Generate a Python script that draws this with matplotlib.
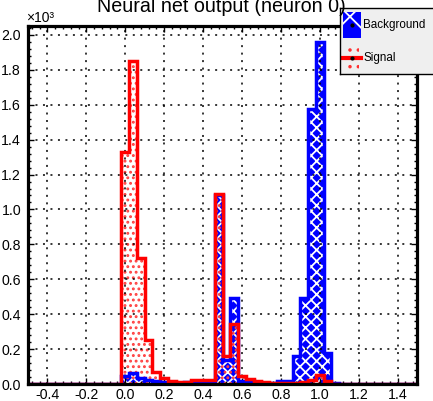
from __future__ import annotations

import matplotlib
matplotlib.use("Agg")
import matplotlib.pyplot as plt
import numpy as np
from matplotlib.patches import Rectangle
from matplotlib.ticker import FuncFormatter, MultipleLocator


# 50 bins from -0.5 to 1.5
BIN_LO = -0.5
BIN_HI = 1.5
N_BINS = 50

# background counts per bin
background = [
    0, 0, 0, 0, 0, 0, 0, 0, 0, 0,
    0, 0, 45, 65, 35, 25, 15, 10, 8, 8,
    10, 10, 15, 20, 1085, 140, 490, 20, 15, 10,
    8, 8, 15, 20, 160, 495, 1575, 1960, 175, 5,
    0, 0, 0, 0, 0, 0, 0, 0, 0, 0,
]

# signal counts per bin
signal = [
    0, 0, 0, 0, 0, 0, 0, 0, 0, 0,
    0, 0, 1330, 1850, 720, 250, 70, 35, 15, 10,
    12, 25, 25, 25, 1090, 160, 345, 45, 30, 15,
    10, 8, 8, 5, 5, 10, 25, 50, 15, 0,
    0, 0, 0, 0, 0, 0, 0, 0, 0, 0,
]

x_ticks = [-0.4, -0.2, 0.0, 0.2, 0.4, 0.6, 0.8, 1.0, 1.2, 1.4]
y_ticks = [0, 200, 400, 600, 800, 1000, 1200, 1400, 1600, 1800, 2000]

TITLE = "Neural net output (neuron 0)"

W, H = 433, 401


def setup_matplotlib() -> None:
    plt.rcParams["font.family"] = ["Liberation Sans", "DejaVu Sans"]
    plt.rcParams["axes.unicode_minus"] = False
    plt.rcParams["hatch.linewidth"] = 1.3


def px(x0, y0, w, h):
    # pixel box (top-left origin) -> figure fraction rect
    return [x0 / W, 1 - (y0 + h) / H, w / W, h / H]


def draw_hist(ax) -> None:
    edges = np.linspace(BIN_LO, BIN_HI, N_BINS + 1)
    bkg = np.array(background, dtype=float)
    sig = np.array(signal, dtype=float)

    ax.stairs(bkg, edges, fill=True, facecolor="#0000ff", edgecolor="white",
              hatch="xxx", lw=0, zorder=1)
    ax.stairs(sig, edges, fill=True, facecolor="none", edgecolor="#ff4040",
              hatch="...", lw=0, zorder=1.1)
    ax.stairs(bkg, edges, color="#0000ff", lw=2.5, zorder=2.2)
    ax.stairs(sig, edges, color="#ff0000", lw=2.5, zorder=2.3)


def style_axes(ax) -> None:
    ax.set_xlim(BIN_LO, BIN_HI)
    ax.set_ylim(0, 2051)
    ax.set_xticks(x_ticks)
    ax.set_yticks(y_ticks)
    ax.xaxis.set_minor_locator(MultipleLocator(0.04))
    ax.yaxis.set_minor_locator(MultipleLocator(40))
    ax.xaxis.set_major_formatter(FuncFormatter(lambda v, p: f"{round(v, 1) + 0:.1f}"))
    ax.yaxis.set_major_formatter(FuncFormatter(lambda v, p: f"{v / 1000:.1f}"))
    ax.tick_params(which="both", direction="in", top=True, right=True, width=1.0)
    ax.tick_params(which="major", length=4.5, labelsize=10.2, pad=3)
    ax.tick_params(which="minor", length=2.2)
    ax.tick_params(axis="y", pad=5)
    ax.grid(True, which="major", color="black", lw=1.1, ls=(0, (1.3, 3.6)))
    for s in ax.spines.values():
        s.set_linewidth(2.3)


def draw_legend(fig) -> None:
    lax = fig.add_axes(px(340, 8, 100, 66))
    lax.set_xlim(0, 100)
    lax.set_ylim(66, 0)
    lax.set_xticks([])
    lax.set_yticks([])
    lax.set_facecolor("#efefef")
    for s in lax.spines.values():
        s.set_linewidth(1.0)
        s.set_color("black")

    lax.add_patch(Rectangle((3, 4), 18, 26, facecolor="#0000ff", edgecolor="white",
                            hatch="x", lw=0))
    lax.plot([12], [17], marker="o", ms=2, color="black")
    lax.text(23, 17, "Background", fontsize=8.4, va="center", ha="left")

    lax.add_patch(Rectangle((5, 39), 14, 24, facecolor="none", edgecolor="#ff3030",
                            hatch="..", lw=0))
    lax.plot([3, 21], [50, 50], color="red", lw=3)
    lax.plot([12], [50], marker="o", ms=2, color="black")
    lax.text(23, 50, "Signal", fontsize=8.4, va="center", ha="left")


def main() -> None:
    setup_matplotlib()
    fig = plt.figure(figsize=(W / 100, H / 100), dpi=100)
    ax = fig.add_axes(px(28, 26, 389, 358))
    draw_hist(ax)
    style_axes(ax)

    fig.text(221 / W, 1 - 12 / H, TITLE, ha="center", va="baseline", fontsize=14.2)
    fig.text(26 / W, 1 - 22 / H, "×10³", ha="left", va="baseline", fontsize=10)

    draw_legend(fig)
    fig.savefig("out.png", dpi=100)
    plt.close(fig)


if __name__ == "__main__":
    main()
